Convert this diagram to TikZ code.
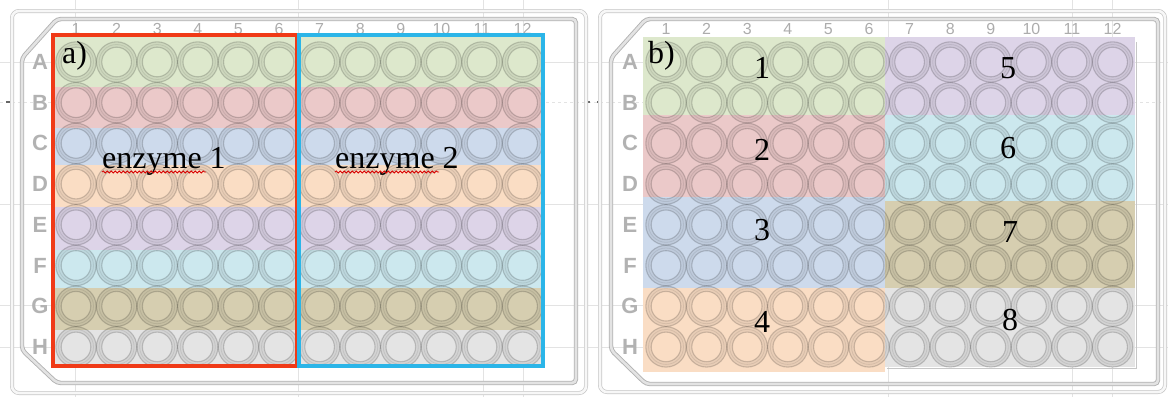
\documentclass[tikz,border=0pt]{standalone}
\usepackage{fontspec}
\setmainfont{Liberation Serif}
\newfontfamily\platefont{Liberation Sans}
\usetikzlibrary{decorations.pathmorphing}

% row tints
\definecolor{tintA}{HTML}{DDE8CC}
\definecolor{tintB}{HTML}{EBC9C9}
\definecolor{tintC}{HTML}{CDDAEC}
\definecolor{tintD}{HTML}{FADDC4}
\definecolor{tintE}{HTML}{DDD4E8}
\definecolor{tintF}{HTML}{CCE8EE}
\definecolor{tintG}{HTML}{D6CEB0}
\definecolor{tintH}{HTML}{E4E4E4}
\definecolor{enzred}{HTML}{F03A17}
\definecolor{enzblue}{HTML}{2BB5E8}

\tikzset{
  guide/.style={draw=gray!22, line width=0.6pt},
  outerframe/.style={draw=gray!45, line width=0.7pt, double=gray!6, double distance=2.6pt, rounded corners=7pt},
  innerframe/.style={draw=gray!60, line width=0.9pt, double=gray!22, double distance=2.6pt, rounded corners=4pt},
  wellring/.style={draw=black, draw opacity=0.17, line width=1.1pt, fill=black, fill opacity=0.07, even odd rule},
  wellmid/.style={draw=black, draw opacity=0.08, line width=0.8pt},
  colnum/.style={font=\platefont\fontsize{16}{16}\selectfont, text=gray!65, inner sep=0pt},
  rowlbl/.style={font=\platefont\bfseries\fontsize{22}{22}\selectfont, text=gray!60, inner sep=0pt},
  bigtxt/.style={font=\fontsize{32}{36}\selectfont, inner sep=0pt},
  squiggle/.style={draw=red!85!black, line width=0.8pt, decorate, decoration={snake, amplitude=1.1pt, segment length=4pt}}
}

\begin{document}
\begin{tikzpicture}[x=1pt, y=-1pt]
  \useasboundingbox (0,0) rectangle (1168,397);

  % ruler guides behind both plates
  \foreach \gy in {62,204,305,347}
    \draw[guide] (0,\gy) -- (1168,\gy);
  \draw[guide, dashed] (0,102) -- (1168,102);
  \foreach \gx in {75,298,483,523,888,1072,1112}
    \draw[guide] (\gx,0) -- (\gx,397);
  \foreach \tx in {8,588,599}
    \draw[gray!80!black, line width=1.2pt] (\tx-2,102) -- (\tx+2,102);

  % ---- plate a ----
  \draw[outerframe] (12,11) rectangle (586,393);
  \draw[innerframe] (22,58) -- (57,19) -- (576,19) -- (576,383) -- (57,383) -- (22,350) -- cycle;

  \foreach \j in {1,...,12}
    \node[colnum] (a-col-\j) at ({76+40.6*(\j-1)},29) {\j};
  \foreach \l [count=\i from 0] in {A,B,C,D,E,F,G,H}
    \node[rowlbl] (a-row-\l) at (40,{62+40.7*\i}) {\l};

  \foreach \c/\ya/\yb in {tintA/37/87, tintB/87/128, tintC/128/165, tintD/165/207,
                          tintE/207/250, tintF/250/288, tintG/288/330, tintH/330/366}
    \fill[\c] (54,\ya) rectangle (542,\yb);

  \foreach \i in {0,...,7}
    \foreach \j in {0,...,11} {
      \path[wellring] ({76+40.6*\j},{62+40.7*\i}) circle[radius=20.2pt]
                      ({76+40.6*\j},{62+40.7*\i}) circle[radius=14.8pt];
      \draw[wellmid] ({76+40.6*\j},{62+40.7*\i}) circle[radius=17.5pt];
    }

  % enzyme halves
  \draw[enzred, line width=3.5pt] (53,35) rectangle (297,366);
  \draw[enzblue, line width=3.5pt] (299,35) rectangle (543,366);

  \node[bigtxt, anchor=base west] (tagA) at (62,63) {a)};
  \node[bigtxt, anchor=base west] (enz1) at (102,168) {enzyme 1};
  \node[bigtxt, anchor=base west] (enz2) at (335,168) {enzyme 2};
  \draw[squiggle] (enz1.base west) ++(0,4) -- ++(104,0);
  \draw[squiggle] (enz2.base west) ++(0,4) -- ++(104,0);

  % ---- plate b ----
  \begin{scope}[xshift=590pt]
    \draw[outerframe] (10,11) rectangle (575,392);
    \draw[innerframe] (21,58) -- (56,19) -- (568,19) -- (568,384) -- (56,384) -- (21,350) -- cycle;

    \foreach \j in {1,...,12}
      \node[colnum] (b-col-\j) at ({76+40.6*(\j-1)},29) {\j};
    \foreach \l [count=\i from 0] in {A,B,C,D,E,F,G,H}
      \node[rowlbl] (b-row-\l) at (40,{62+40.7*\i}) {\l};

    % eight blocks of two rows by six columns
    \foreach \c/\xa/\xb/\ya/\yb in {tintA/53/295/37/115, tintB/53/295/115/197,
                                    tintC/53/295/197/288, tintD/53/295/288/372,
                                    tintE/295/545/37/115, tintF/295/545/115/201,
                                    tintG/295/545/201/288, tintH/295/545/288/367}
      \fill[\c] (\xa,\ya) rectangle (\xb,\yb);
    \draw[gray!45, line width=1pt] (546,42) -- (546,368) -- (297,368);

    \foreach \i in {0,...,7}
      \foreach \j in {0,...,11} {
        \path[wellring] ({76+40.6*\j},{62+40.7*\i}) circle[radius=20.2pt]
                        ({76+40.6*\j},{62+40.7*\i}) circle[radius=14.8pt];
        \draw[wellmid] ({76+40.6*\j},{62+40.7*\i}) circle[radius=17.5pt];
      }

    \node[bigtxt, anchor=base west] (tagB) at (58,63) {b)};
    \foreach \n/\bx/\by in {1/172/68, 2/172/150, 3/172/230, 4/172/322,
                            5/418/68, 6/418/148, 7/420/232, 8/420/320}
      \node[bigtxt] (grp-\n) at (\bx,\by) {\n};
  \end{scope}
\end{tikzpicture}
\end{document}
